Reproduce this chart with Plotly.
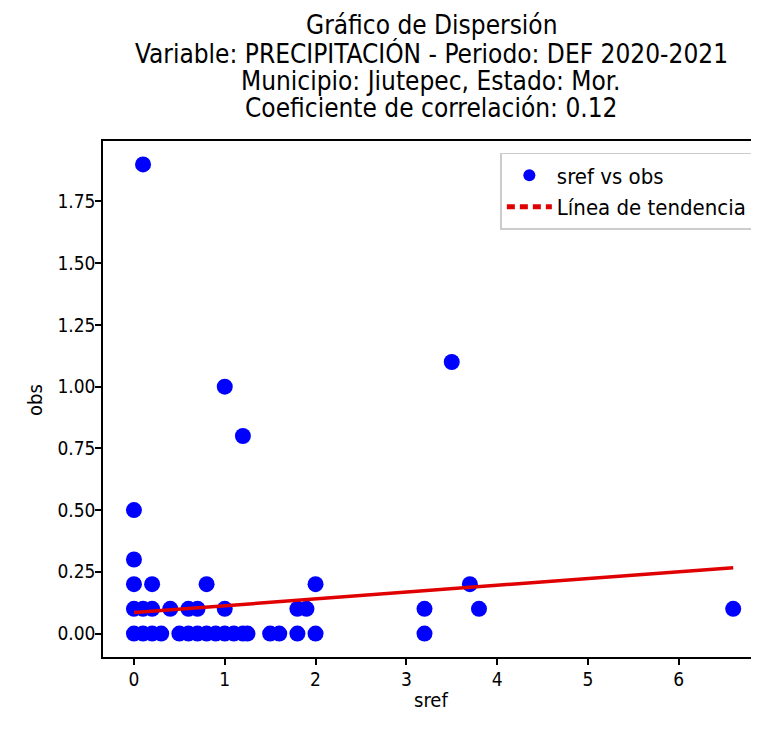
import plotly.graph_objects as go

# Scatter data (sref on x, obs on y)
sref = [0.0, 0.1, 0.2, 0.3, 0.5, 0.6, 0.7, 0.8, 0.9, 1.0, 1.1, 1.2, 1.25, 1.5, 1.6, 1.8, 2.0, 3.2,
        0.0, 0.1, 0.2, 0.4, 0.6, 0.7, 1.0, 1.8, 1.9, 3.2, 3.8, 6.6,
        0.0, 0.2, 0.8, 2.0, 3.7,
        0.0, 0.0, 0.1, 1.0, 1.2, 3.5]
obs = [0.0] * 18 + [0.1] * 12 + [0.2] * 5 + [0.3, 0.5, 1.9, 1.0, 0.8, 1.1]

# Trend line end points
trend_x = [0.0, 6.6]
trend_y = [0.085, 0.267]

x_ticks = [0, 1, 2, 3, 4, 5, 6]
y_ticks = [0.0, 0.25, 0.5, 0.75, 1.0, 1.25, 1.5, 1.75]
y_tick_labels = ["0.00", "0.25", "0.50", "0.75", "1.00", "1.25", "1.50", "1.75"]

title_lines = [
    "Gráfico de Dispersión",
    "Variable: PRECIPITACIÓN - Periodo: DEF 2020-2021",
    "Municipio: Jiutepec, Estado: Mor.",
    "Coeficiente de correlación: 0.12",
]
title_y = [1.2248, 1.1705, 1.1172, 1.0640]

FONT = "DejaVu Sans Condensed, DejaVu Sans, sans-serif"

fig = go.Figure()
fig.add_trace(go.Scatter(
    x=sref, y=obs, mode="markers", name="sref vs obs",
    marker=dict(color="#0000ff", size=16, line=dict(width=0)),
))
fig.add_trace(go.Scatter(
    x=trend_x, y=trend_y, mode="lines", showlegend=False,
    line=dict(color="#e00000", width=3.5),
))
fig.add_trace(go.Scatter(
    x=[None], y=[None], mode="lines", name="Línea de tendencia",
    line=dict(color="#e00000", width=3, dash="8px,5px"),
))

axis_common = dict(
    showgrid=False, zeroline=False, showline=True, linecolor="black", linewidth=1.5,
    ticks="outside", ticklen=6, tickwidth=1.5, tickcolor="black", automargin=False,
    tickfont=dict(family=FONT, size=19, color="black"),
)

annotations = [
    dict(text=t, x=0.5 * 656 / 650, y=yv, xref="paper", yref="paper", xanchor="center",
         yanchor="middle", showarrow=False, font=dict(family=FONT, size=26, color="black"))
    for t, yv in zip(title_lines, title_y)
]
annotations.append(dict(text="sref", x=0.5 * 656 / 650, y=-0.083, xref="paper", yref="paper",
                        xanchor="center", yanchor="middle", showarrow=False,
                        font=dict(family=FONT, size=20, color="black")))
annotations.append(dict(text="obs", x=-0.1046, y=0.498, xref="paper", yref="paper",
                        xanchor="center", yanchor="middle", showarrow=False, textangle=-90,
                        font=dict(family=FONT, size=20, color="black")))

fig.update_layout(
    width=745, height=715,
    margin=dict(l=95, r=0, t=133, b=66),
    paper_bgcolor="white", plot_bgcolor="white",
    font=dict(family=FONT, color="black"),
    annotations=annotations,
    xaxis=dict(range=[-0.341, 6.818], tickvals=x_ticks, mirror=True,
               ticklabelstandoff=-2, **axis_common),
    yaxis=dict(range=[-0.095, 1.995], tickvals=y_ticks, ticktext=y_tick_labels,
               mirror=False, ticklabelstandoff=-4, **axis_common),
    legend=dict(
        x=0.999, xanchor="right", y=0.977, yanchor="top",
        bgcolor="white", bordercolor="#cccccc", borderwidth=1.5,
        font=dict(family=FONT, size=22, color="black"),
        itemsizing="constant", itemwidth=45,
    ),
    showlegend=True,
)

fig.write_html("out.html")
